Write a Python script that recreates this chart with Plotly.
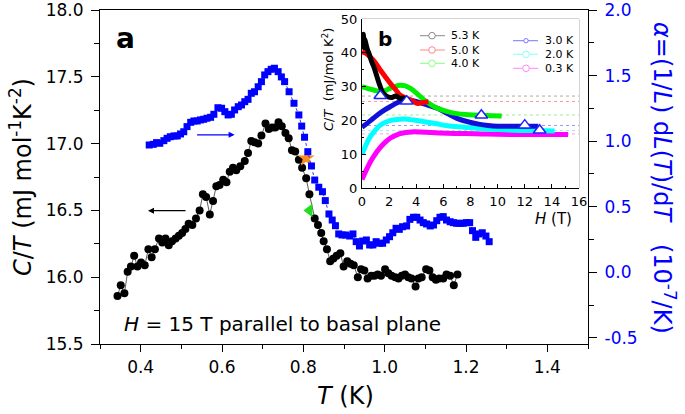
import plotly.graph_objects as go

# ---------------- main panel data ----------------
T_black = [0.343,0.351,0.360,0.368,0.376,0.384,0.392,0.401,0.410,0.419,0.427,0.435,0.445,0.453,0.461,0.469,0.477,0.486,0.494,0.502,
           0.510,0.518,0.527,0.536,0.545,0.553,0.561,0.570,0.578,0.586,0.594,0.603,0.611,0.619,0.627,0.635,0.645,0.656,0.664,0.672,
           0.680,0.689,0.697,0.707,0.715,0.723,0.731,0.739,0.747,0.756,0.764,0.772,0.780,0.789,0.797,0.807,0.815,0.828,0.836,0.844,
           0.850,0.858,0.866,0.874,0.882,0.891,0.899,0.908,0.916,0.924,0.934,0.942,0.950,0.958,0.967,0.975,0.983,0.991,1.001,1.009,
           1.017,1.026,1.034,1.042,1.050,1.058,1.066,1.076,1.083,1.091,1.102,1.110,1.118,1.126,1.134,1.144,1.152,1.161,1.170,1.179]
C_black = [15.86,15.94,15.88,16.04,16.08,16.16,16.08,16.11,16.09,16.21,16.15,16.21,16.29,16.26,16.29,16.24,16.27,16.29,16.31,16.33,
           16.36,16.40,16.39,16.44,16.50,16.62,16.60,16.47,16.57,16.68,16.69,16.73,16.71,16.79,16.82,16.80,16.83,16.87,16.93,17.02,
           17.01,17.00,17.06,17.15,17.11,17.12,17.12,17.16,17.13,17.08,17.04,16.95,16.94,16.88,16.82,16.74,16.62,16.44,16.39,16.33,
           16.27,16.21,16.12,16.14,16.16,16.18,16.08,16.12,16.10,16.09,16.00,16.06,16.05,15.99,16.01,16.01,16.02,16.01,16.06,16.03,
           16.01,16.00,15.99,16.01,16.02,16.00,15.99,15.93,15.99,16.00,16.06,16.05,16.00,15.98,15.99,15.99,16.02,16.01,15.94,16.02]

T_blue = [0.421,0.431,0.439,0.447,0.457,0.465,0.473,0.482,0.490,0.498,0.506,0.514,0.523,0.531,0.539,0.547,0.555,0.563,0.572,0.580,
          0.590,0.599,0.607,0.615,0.623,0.631,0.640,0.648,0.656,0.664,0.672,0.680,0.689,0.697,0.705,0.713,0.721,0.729,0.738,0.746,
          0.754,0.765,0.777,0.789,0.796,0.803,0.811,0.820,0.828,0.838,0.847,0.854,0.863,0.871,0.879,0.887,0.895,0.904,0.914,0.922,
          0.930,0.938,0.946,0.955,0.963,0.971,0.979,0.987,0.995,1.004,1.012,1.020,1.028,1.036,1.044,1.054,1.062,1.071,1.079,1.087,
          1.095,1.103,1.112,1.120,1.128,1.136,1.144,1.152,1.161,1.169,1.177,1.185,1.193,1.201,1.209,1.216,1.224,1.232,1.240,1.249,1.257]
A_blue = [0.971,0.976,0.989,0.984,1.004,1.022,1.034,1.040,1.040,1.055,1.072,1.111,1.144,1.154,1.154,1.162,1.167,1.175,1.182,1.205,
          1.255,1.251,1.225,1.200,1.205,1.238,1.263,1.276,1.301,1.319,1.365,1.377,1.415,1.454,1.505,1.530,1.548,1.556,1.530,1.490,
          1.454,1.377,1.289,1.200,1.115,1.030,0.920,0.811,0.704,0.649,0.615,0.547,0.445,0.399,0.356,0.293,0.285,0.285,0.277,0.293,
          0.234,0.201,0.239,0.247,0.209,0.209,0.234,0.222,0.222,0.247,0.272,0.302,0.336,0.328,0.348,0.354,0.404,0.420,0.420,0.399,
          0.379,0.369,0.354,0.361,0.394,0.420,0.425,0.399,0.386,0.379,0.374,0.374,0.374,0.379,0.379,0.318,0.267,0.293,0.302,0.277,0.234]

star_T, star_C = [0.807], [16.89]
tri_T, tri_C = [0.815], [16.50]

x_ticks = [0.4, 0.6, 0.8, 1.0, 1.2, 1.4]
yl_ticks = [15.5, 16.0, 16.5, 17.0, 17.5, 18.0]
yr_ticks = [-0.5, 0.0, 0.5, 1.0, 1.5, 2.0]
yr_text = ["-0.5", "0.0", "0.5", "1.0", "1.5", "2.0"]

# ---------------- inset data ----------------
H_53 = [0.0, 0.05, 0.1, 0.15, 0.2, 0.3, 0.4, 0.5, 0.7, 0.9, 1.1, 1.3, 1.5, 1.7, 1.9, 2.2, 2.5, 2.8, 3.1, 3.4]
C_53 = [44.5, 42.0, 45.5, 41.5, 44.0, 42.5, 41.0, 40.0, 37.5, 35.5, 33.0, 30.5, 28.5, 27.5, 27.0, 26.8, 27.2, 26.5, 26.6, 26.0]
H_50 = [0.0, 0.3, 0.6, 1.0, 1.35, 1.7, 2.1, 2.5, 2.8, 3.2, 3.6, 4.1, 4.5, 4.9]
C_50 = [40.3, 39.8, 38.8, 37.0, 34.9, 33.0, 30.9, 29.0, 27.5, 26.7, 26.0, 25.0, 25.3, 25.5]
H_40 = [0.0, 0.4, 0.86, 1.35, 1.7, 2.0, 2.4, 2.8, 3.2, 3.6, 4.1, 4.6, 5.1, 5.6, 6.3, 7.0, 7.8, 8.7, 9.5, 10.3]
C_40 = [30.0, 29.5, 29.0, 28.5, 28.8, 29.4, 30.0, 30.4, 30.2, 29.4, 27.8, 26.0, 24.6, 23.5, 22.6, 22.0, 21.7, 21.5, 21.4, 21.3]
H_30 = [0.0, 0.4, 0.86, 1.4, 2.1, 2.6, 3.1, 3.6, 4.1, 4.8, 5.6, 6.3, 7.0, 7.8, 8.6, 9.3, 10.0, 11.5, 13.0]
C_30 = [18.0, 19.2, 20.7, 22.4, 24.1, 25.2, 25.9, 26.0, 25.5, 24.6, 23.5, 22.0, 20.6, 19.6, 18.9, 18.5, 18.3, 18.3, 18.3]
H_20 = [0.0, 0.3, 0.6, 1.0, 1.35, 1.7, 2.1, 2.6, 3.1, 3.8, 4.6, 5.5, 6.3, 7.5, 8.7, 10.0, 11.2, 12.7, 14.2]
C_20 = [10.0, 12.8, 15.1, 17.2, 18.6, 19.4, 20.0, 20.3, 20.4, 20.1, 19.6, 19.0, 18.4, 18.0, 17.6, 17.3, 17.1, 17.0, 16.9]
H_03 = [0.0, 0.2, 0.4, 0.6, 0.9, 1.35, 1.7, 2.1, 2.5, 2.8, 3.2, 3.6, 4.3, 5.1, 6.3, 7.6, 8.8, 10.0, 11.3, 12.6, 13.9, 15.2]
C_03 = [2.5, 4.3, 6.0, 7.6, 9.6, 12.0, 13.5, 14.8, 15.6, 16.1, 16.4, 16.6, 16.6, 16.4, 16.2, 16.1, 16.0, 15.9, 15.85, 15.8, 15.8, 15.8]
H_tri = [1.35, 3.3, 8.8, 12.0, 13.1]
C_tri = [27.3, 25.7, 21.5, 18.6, 17.1]
ref_levels = [27.2, 25.6, 21.6, 18.5, 17.0, 16.0]
ref_colors = ["#aaaaaa", "#ff9999", "#99ee99", "#9999ff", "#99eeee", "#ff99ff"]
ins_x_ticks = [0, 2, 4, 6, 8, 10, 12, 14, 16]
ins_y_ticks = [0, 10, 20, 30, 40, 50]

legend_labels = ["5.3 K", "5.0 K", "4.0 K", "3.0 K", "2.0 K", "0.3 K"]
legend_pale = ["#888888", "#ff8888", "#88ff88", "#7777ff", "#88ffff", "#ff88ff"]

FONT = "DejaVu Sans"
W, H = 685, 414
L, R, TOP, B = 100, 97, 10, 70
PW, PH = W - L - R, H - TOP - B

def px(xp):
    return (xp - L) / PW

def py(yp):
    return 1 - (yp - TOP) / PH

fig = go.Figure()

fig.add_trace(go.Scatter(x=T_black, y=C_black, mode="lines+markers",
                         line=dict(color="#333333", width=0.8),
                         marker=dict(symbol="circle", size=8, color="black"),
                         xaxis="x", yaxis="y", showlegend=False))
fig.add_trace(go.Scatter(x=T_blue, y=A_blue, mode="lines+markers",
                         line=dict(color="#0000ff", width=0.8, dash="dot"),
                         marker=dict(symbol="square", size=7, color="#0000ff"),
                         xaxis="x", yaxis="y2", showlegend=False))
fig.add_trace(go.Scatter(x=star_T, y=star_C, mode="markers",
                         marker=dict(symbol="star", size=13, color="#ff8c1a"),
                         xaxis="x", yaxis="y", showlegend=False))
fig.add_trace(go.Scatter(x=tri_T, y=tri_C, mode="markers",
                         marker=dict(symbol="triangle-left", size=12, color="#22dd22"),
                         xaxis="x", yaxis="y", showlegend=False))

inset = [(H_03, C_03, "#ff00ff"), (H_20, C_20, "#00ffff"), (H_30, C_30, "#1010d8"),
         (H_40, C_40, "#00ee00"), (H_50, C_50, "#ff0000"), (H_53, C_53, "#000000")]
for hx, cy, col in inset:
    fig.add_trace(go.Scatter(x=hx, y=cy, mode="lines", line=dict(color=col, width=5, shape="spline"),
                             xaxis="x3", yaxis="y3", showlegend=False))
fig.add_trace(go.Scatter(x=H_tri, y=C_tri, mode="markers",
                         marker=dict(symbol="triangle-up", size=11, color="white",
                                     line=dict(color="#2020ff", width=1.5)),
                         xaxis="x3", yaxis="y3", showlegend=False))

axis_common = dict(showgrid=False, zeroline=False, showline=True, linecolor="black", linewidth=1.2,
                   ticks="outside", tickcolor="black", tickwidth=1.2, automargin=False,
                   ticklabeloverflow="allow")

shapes = []
for lev, col in zip(ref_levels, ref_colors):
    shapes.append(dict(type="line", xref="x3", yref="y3", x0=0, x1=16, y0=lev, y1=lev,
                       line=dict(color=col, width=1, dash="dot"), layer="below"))
shapes.append(dict(type="rect", xref="x3 domain", yref="y3 domain", x0=0, x1=1, y0=0, y1=1,
                   line=dict(color="#aaaaaa", width=1), layer="below"))

annotations = []
leg_pos = [(420, 432, 449, 35.7), (420, 432, 449, 50.0), (420, 432, 449, 63.3),
           (513, 526, 543, 40.7), (513, 526, 543, 54.3), (513, 526, 543, 68.3)]
for (x0, xc, xt, yy), lab, col in zip(leg_pos, legend_labels, legend_pale):
    shapes.append(dict(type="line", xref="paper", yref="paper", x0=px(x0), x1=px(x0 + 25),
                       y0=py(yy), y1=py(yy), line=dict(color=col, width=1)))
    r = 3.3 if lab != "3.0 K" else 2.2
    shapes.append(dict(type="circle", xref="paper", yref="paper", x0=px(xc - r), x1=px(xc + r),
                       y0=py(yy + r), y1=py(yy - r), line=dict(color=col, width=1), fillcolor="white"))
    annotations.append(dict(x=px(xt), y=py(yy), xref="paper", yref="paper", text=lab, showarrow=False,
                            xanchor="left", yanchor="middle", font=dict(family=FONT, size=11, color="black")))

def label(xp, yp, text, size, color="black", angle=0, xanchor="center"):
    return dict(x=px(xp), y=py(yp), xref="paper", yref="paper", text=text, showarrow=False,
                textangle=angle, xanchor=xanchor, yanchor="middle",
                font=dict(family=FONT, size=size, color=color))

annotations += [
    label(21, 177, "<i>C</i>/<i>T</i> (mJ mol<sup>-1</sup>K<sup>-2</sup>)", 24, angle=-90),
    label(664, 178, "<i>α</i>=(1/<i>L</i>) d<i>L</i>(<i>T</i>)/d<i>T</i>   (10<sup>-7</sup>/K)", 24,
          color="#0000ff", angle=90),
    label(345, 396, "<i>T</i> (K)", 24),
    label(122, 324, "<i>H</i> = 15 T parallel to basal plane", 20, xanchor="left"),
    label(125, 38, "<b>a</b>", 28),
    label(385, 39, "<b>b</b>", 20),
    label(328, 80, "<i>C</i>/<i>T</i>  (mJ/mol K<sup>2</sup>)", 13, angle=-90),
    label(553, 219, "<i>H</i> (T)", 15),
    dict(x=0.631, y=17.066, xref="x", yref="y", ax=-39, ay=0, axref="pixel", ayref="pixel", text="",
         showarrow=True, arrowhead=2, arrowsize=1, arrowwidth=1.2, arrowcolor="#0000ff"),
    dict(x=0.418, y=16.498, xref="x", yref="y", ax=39, ay=0, axref="pixel", ayref="pixel", text="",
         showarrow=True, arrowhead=2, arrowsize=1, arrowwidth=1.2, arrowcolor="black"),
]

fig.update_layout(
    width=W, height=H, margin=dict(l=L, r=R, t=TOP, b=B, autoexpand=False),
    paper_bgcolor="white", plot_bgcolor="white",
    font=dict(family=FONT, size=17, color="black"),
    xaxis=dict(**axis_common, range=[0.3, 1.5], tickvals=x_ticks, tickformat=".1f", ticklen=7,
               mirror=True, ticklabelstandoff=0,
               minor=dict(dtick=0.1, tick0=0.3, ticks="outside", ticklen=4, tickcolor="black", tickwidth=1.2),
               tickfont=dict(family=FONT, size=17)),
    yaxis=dict(**axis_common, range=[15.5, 18.0], tickvals=yl_ticks, tickformat=".1f", ticklen=8,
               ticklabelstandoff=4,
               minor=dict(dtick=0.25, tick0=15.5, ticks="outside", ticklen=5, tickcolor="black", tickwidth=1.2),
               tickfont=dict(family=FONT, size=17)),
    yaxis2=dict(**axis_common, overlaying="y", side="right", range=[-0.546, 2.0], tickvals=yr_ticks,
                ticktext=yr_text, ticklen=8, ticklabelstandoff=4, anchor="x",
                minor=dict(dtick=0.25, tick0=-0.5, ticks="outside", ticklen=5, tickcolor="black", tickwidth=1.2),
                tickfont=dict(family=FONT, size=17, color="#0000ff")),
    xaxis3=dict(showgrid=False, zeroline=False, showline=True, linecolor="black", linewidth=1, automargin=False,
                domain=[px(362), px(579)], anchor="y3", range=[0, 16], tickvals=ins_x_ticks,
                ticks="inside", ticklen=4, tickcolor="black",
                minor=dict(dtick=1, tick0=0, ticks="inside", ticklen=2, tickcolor="black"),
                tickfont=dict(family=FONT, size=13), ticklabelstandoff=1),
    yaxis3=dict(showgrid=False, zeroline=False, showline=True, linecolor="black", linewidth=1, automargin=False,
                domain=[py(188), py(19)], anchor="x3", range=[0, 50], tickvals=ins_y_ticks,
                ticks="inside", ticklen=4, tickcolor="black",
                minor=dict(dtick=5, tick0=0, ticks="inside", ticklen=2, tickcolor="black"),
                tickfont=dict(family=FONT, size=13), ticklabelstandoff=1),
    shapes=shapes, annotations=annotations, showlegend=False,
)

fig.write_html("out.html", config={"displayModeBar": False},
               post_script="document.body.style.margin='0';document.body.style.padding='0';")
